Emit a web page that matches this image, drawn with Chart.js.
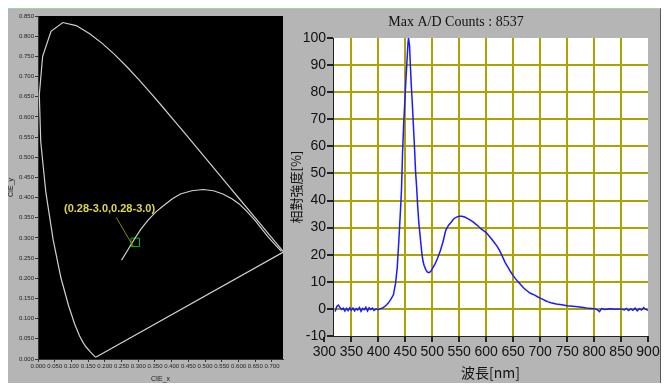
<!DOCTYPE html>
<html>
<head>
<meta charset="utf-8">
<script src="https://cdn.jsdelivr.net/npm/chart.js@4.4.1/dist/chart.umd.min.js"></script>
<style>
    body { margin: 0; background: #ffffff; }
    #panel {
        position: absolute; left: 8px; top: 8px; width: 652px; height: 374px;
        background: #b5b5b5; border-top: 1px solid #a3d3a3; border-right: 1px solid #5a5a5a;
    }
    #cieBox { position: absolute; left: 8px; top: 9px; width: 282px; height: 374px; }
    #specBox { position: absolute; left: 290px; top: 9px; width: 371px; height: 374px; }
</style>
</head>
<body>
<div id="panel"></div>
<div id="cieBox"><canvas id="cieChart"></canvas></div>
<div id="specBox"><canvas id="specChart"></canvas></div>
<script>
// CIE 1931 spectral locus (closed with the purple line)
const locusX = [0.1741, 0.1714, 0.1644, 0.1566, 0.1440, 0.1355, 0.1241, 0.1096, 0.0913, 0.0687, 0.0454, 0.0235, 0.0082, 0.0039, 0.0139, 0.0389, 0.0743, 0.1142, 0.1547, 0.1929, 0.2296, 0.2658, 0.3016, 0.3373, 0.3731, 0.4087, 0.4441, 0.4788, 0.5125, 0.5448, 0.5752, 0.6029, 0.6270, 0.6658, 0.6915, 0.7079, 0.7190, 0.7260, 0.7300, 0.7334, 0.7347, 0.1741]
const locusY = [0.0050, 0.0051, 0.0109, 0.0177, 0.0297, 0.0399, 0.0578, 0.0868, 0.1327, 0.2007, 0.2950, 0.4127, 0.5384, 0.6548, 0.7502, 0.8120, 0.8338, 0.8262, 0.8059, 0.7816, 0.7543, 0.7243, 0.6923, 0.6589, 0.6245, 0.5896, 0.5547, 0.5202, 0.4866, 0.4544, 0.4242, 0.3965, 0.3725, 0.3340, 0.3083, 0.2920, 0.2809, 0.2740, 0.2700, 0.2666, 0.2653, 0.0050]

// inner white curve
const curveX = [0.250, 0.270, 0.289, 0.308, 0.328, 0.352, 0.377, 0.400, 0.426, 0.460, 0.494, 0.525, 0.553, 0.580, 0.601, 0.625, 0.650, 0.670, 0.689, 0.710, 0.728]
const curveY = [0.245, 0.272, 0.298, 0.322, 0.343, 0.364, 0.381, 0.396, 0.409, 0.417, 0.420, 0.417, 0.409, 0.397, 0.385, 0.366, 0.343, 0.322, 0.302, 0.283, 0.267]

// measured point and its label
const markerXY = [0.291, 0.289]
const markerText = "(0.28-3.0,0.28-3.0)"
const markerTextXY = [0.214, 0.371]
const leaderFromXY = [0.234, 0.351]

const cieXTicks = [0, 0.05, 0.1, 0.15, 0.2, 0.25, 0.3, 0.35, 0.4, 0.45, 0.5, 0.55, 0.6, 0.65, 0.7]
const cieYTicks = [0, 0.05, 0.1, 0.15, 0.2, 0.25, 0.3, 0.35, 0.4, 0.45, 0.5, 0.55, 0.6, 0.65, 0.7, 0.75, 0.8, 0.85]

// spectrum
const wavelength = [320, 323, 326, 329, 332, 335, 338, 341, 344, 347, 350, 353, 356, 359, 362, 365, 368, 371, 374, 377, 380, 383, 386, 389, 392, 396, 400, 404, 408, 412, 416, 420, 424, 428, 432, 435, 438, 441, 443, 445, 447, 449, 451, 453, 455, 456, 458, 459, 461, 463, 465, 467, 469, 471, 473, 475, 477, 479, 481, 483, 485, 488, 491, 494, 497, 500, 505, 510, 515, 520, 525, 530, 535, 540, 545, 550, 555, 560, 565, 570, 575, 580, 585, 590, 595, 600, 605, 610, 615, 620, 625, 630, 635, 640, 645, 650, 655, 660, 665, 670, 675, 680, 685, 690, 695, 700, 705, 710, 715, 720, 730, 740, 750, 760, 770, 780, 790, 800, 806, 810, 814, 820, 830, 840, 850, 856, 860, 864, 868, 872, 876, 880, 884, 888, 892, 896, 900]
const intensity = [-1.0, 0.9, 1.4, 0.5, -0.2, 0.3, -0.8, 0.2, -0.6, 0.4, -0.5, 0.3, -0.7, 0.1, -0.4, 0.5, -0.9, 0.2, -0.3, 0.6, -0.8, 0.4, -0.2, 0.3, -0.6, 0.0, -0.3, 0.1, 0.3, 0.9, 1.6, 2.6, 3.8, 5.2, 9.5, 15, 25, 36, 44, 58, 68, 76, 84, 91, 98, 100, 97, 92, 83, 76, 68, 60, 51, 45, 38, 32, 28, 24, 20, 17.5, 16, 14.5, 13.6, 13.4, 13.8, 14.8, 16.5, 18.8, 21.5, 24.8, 29, 30.8, 32, 33.3, 33.9, 34.2, 34.2, 33.9, 33.4, 32.9, 32.2, 31.4, 30.6, 29.6, 28.9, 28.2, 27, 25.8, 24.5, 23.2, 21.5, 19.4, 17.2, 15.5, 13.8, 12.3, 11.0, 9.8, 8.7, 7.6, 6.8, 6.0, 5.5, 5.1, 4.5, 4.0, 3.5, 3.0, 2.6, 2.3, 1.8, 1.5, 1.2, 1.0, 0.8, 0.5, 0.2, 0.1, -0.3, -1.0, 0.1, -0.2, 0.1, -0.1, 0.0, -0.4, 0.2, -0.6, 0.0, -0.5, 0.3, -0.7, 0.1, -0.4, 0.5, -0.2, -0.5]

const specXTicks = [300, 350, 400, 450, 500, 550, 600, 650, 700, 750, 800, 850, 900]
const specYTicks = [-10, 0, 10, 20, 30, 40, 50, 60, 70, 80, 90, 100]
const specTitle = "Max A/D Counts : 8537"

const sans = "'Liberation Sans', Arial, sans-serif"
const serif = "'Liberation Serif', 'DejaVu Serif', serif"
const cjk = "'Noto Sans CJK TC', 'Noto Sans CJK SC', sans-serif"

function toPoints(xs, ys) {
    return xs.map((x, i) => ({ x: x, y: ys[i] }))
}

// paints the plot area (black for CIE, white for spectrum)
const areaFill = {
    id: "areaFill",
    beforeDraw(chart, args, opts) {
        const a = chart.chartArea
        chart.ctx.save()
        chart.ctx.fillStyle = opts.color
        chart.ctx.fillRect(a.left, a.top, a.right - a.left, a.bottom - a.top)
        chart.ctx.restore()
    }
}

// label + leader line for the measured point
const markerLabel = {
    id: "markerLabel",
    afterDatasetsDraw(chart) {
        const ctx = chart.ctx
        const xs = chart.scales.x, ys = chart.scales.y
        ctx.save()
        ctx.strokeStyle = "#8c8400"
        ctx.lineWidth = 1
        ctx.beginPath()
        ctx.moveTo(xs.getPixelForValue(leaderFromXY[0]), ys.getPixelForValue(leaderFromXY[1]))
        ctx.lineTo(xs.getPixelForValue(markerXY[0]) - 2, ys.getPixelForValue(markerXY[1]) + 4)
        ctx.stroke()
        ctx.font = "bold 11px " + sans
        ctx.textAlign = "center"
        ctx.textBaseline = "middle"
        ctx.fillStyle = "#dcd84a"
        ctx.fillText(markerText, xs.getPixelForValue(markerTextXY[0]), ys.getPixelForValue(markerTextXY[1]))
        ctx.restore()
    }
}

const specHeader = {
    id: "specHeader",
    afterDraw(chart) {
        const ctx = chart.ctx
        ctx.save()
        ctx.font = "14px " + serif
        ctx.fillStyle = "#111"
        ctx.textAlign = "center"
        ctx.textBaseline = "middle"
        ctx.fillText(specTitle, 166, 13)
        ctx.restore()
    }
}

new Chart(document.getElementById("cieChart"), {
    type: "scatter",
    data: {
        datasets: [{
            data: toPoints(locusX, locusY),
            showLine: true,
            borderColor: "#d0d0d0",
            borderWidth: 1.2,
            pointRadius: 0
        }, {
            data: toPoints(curveX, curveY),
            showLine: true,
            borderColor: "#d0d0d0",
            borderWidth: 1.2,
            pointRadius: 0
        }, {
            data: [{ x: markerXY[0], y: markerXY[1] }],
            pointStyle: "rect",
            pointRadius: 6,
            borderColor: "#00c000",
            borderWidth: 1,
            backgroundColor: "rgba(0,0,0,0)"
        }]
    },
    plugins: [areaFill, markerLabel],
    options: {
        responsive: true,
        maintainAspectRatio: false,
        animation: false,
        layout: { padding: { top: 6, right: 2, left: 0, bottom: 0 } },
        scales: {
            x: {
                type: "linear",
                min: 0,
                max: 0.733,
                afterBuildTicks: (scale) => { scale.ticks = cieXTicks.map(v => ({ value: v })) },
                afterFit: (scale) => { scale.height = 24; scale.paddingLeft = 0; scale.paddingRight = 0 },
                ticks: {
                    autoSkip: false,
                    maxRotation: 0,
                    padding: 1,
                    color: "#222",
                    font: { size: 6, family: sans },
                    callback: (value) => value.toFixed(3)
                },
                grid: { drawOnChartArea: false, tickLength: 3, color: "#333" },
                border: { color: "#333" },
                title: {
                    display: true,
                    text: "CIE_x",
                    color: "#222",
                    padding: { top: 0, bottom: 0 },
                    font: { size: 7, family: sans, lineHeight: 1 }
                }
            },
            y: {
                min: 0,
                max: 0.85,
                afterBuildTicks: (scale) => { scale.ticks = cieYTicks.map(v => ({ value: v })) },
                afterFit: (scale) => { scale.width = 30 },
                ticks: {
                    padding: 1,
                    color: "#222",
                    font: { size: 6, family: sans },
                    callback: (value) => value.toFixed(3)
                },
                grid: { drawOnChartArea: false, tickLength: 3, color: "#333" },
                border: { color: "#333" },
                title: {
                    display: true,
                    text: "CIE_y",
                    color: "#222",
                    padding: 0,
                    font: { size: 7, family: sans, lineHeight: 1 }
                }
            }
        },
        plugins: {
            legend: { display: false },
            tooltip: { enabled: false },
            areaFill: { color: "#000000" }
        }
    }
})

new Chart(document.getElementById("specChart"), {
    type: "line",
    data: {
        datasets: [{
            data: toPoints(wavelength, intensity),
            borderColor: "#1a1aff",
            borderWidth: 1.5,
            pointRadius: 0,
            tension: 0
        }]
    },
    plugins: [areaFill, specHeader],
    options: {
        responsive: true,
        maintainAspectRatio: false,
        animation: false,
        layout: { padding: { top: 29, right: 13, left: 0, bottom: 0 } },
        scales: {
            x: {
                type: "linear",
                min: 316,
                max: 900,
                afterBuildTicks: (scale) => { scale.ticks = specXTicks.map(v => ({ value: v })) },
                afterFit: (scale) => { scale.height = 47; scale.paddingLeft = 0; scale.paddingRight = 0 },
                ticks: {
                    autoSkip: false,
                    maxRotation: 0,
                    padding: 2,
                    color: "#111",
                    font: { size: 14, family: sans }
                },
                grid: {
                    color: (c) => (c.tick && (c.tick.value == 300 || c.tick.value == 900)) ? "rgba(0,0,0,0)" : "#aca300",
                    lineWidth: 2,
                    tickColor: "#222",
                    tickLength: 6
                },
                border: { display: true, color: "#222", width: 1 },
                title: {
                    display: true,
                    text: "波長[nm]",
                    color: "#111",
                    padding: { top: 0, bottom: 2 },
                    font: { size: 14, family: cjk, lineHeight: 1.2 }
                }
            },
            y: {
                min: -10,
                max: 100,
                afterBuildTicks: (scale) => { scale.ticks = specYTicks.map(v => ({ value: v })) },
                afterFit: (scale) => { scale.width = 43 },
                ticks: {
                    padding: 1,
                    color: "#111",
                    font: { size: 14, family: sans }
                },
                grid: {
                    color: (c) => (c.tick && (c.tick.value == -10 || c.tick.value == 100)) ? "rgba(0,0,0,0)" : "#aca300",
                    lineWidth: 2,
                    tickColor: "#222",
                    tickLength: 6
                },
                border: { display: true, color: "#222", width: 1 },
                title: {
                    display: true,
                    text: "相對強度[%]",
                    color: "#111",
                    padding: 0,
                    font: { size: 13, family: cjk, lineHeight: 1 }
                }
            }
        },
        plugins: {
            legend: { display: false },
            tooltip: { enabled: false },
            areaFill: { color: "#ffffff" }
        }
    }
})
</script>
</body>
</html>
